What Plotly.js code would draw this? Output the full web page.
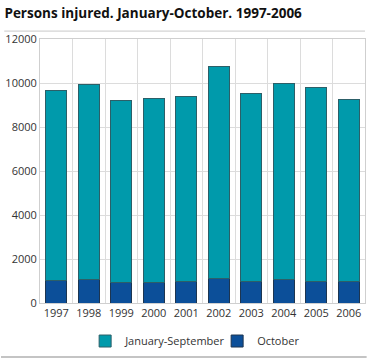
<!DOCTYPE html>
<html>
<head>
<meta charset="utf-8">
<script src="https://cdn.plot.ly/plotly-3.0.1.min.js"></script>
<style>
html,body{margin:0;padding:0;background:#fff;}
#chart{width:368px;height:361px;}
</style>
</head>
<body>
<div id="chart"></div>
<script>
var years = ['1997','1998','1999','2000','2001','2002','2003','2004','2005','2006'];
var october = [1010, 1050, 935, 910, 1000, 1100, 1000, 1070, 955, 980];
var janSep = [8630, 8870, 8280, 8390, 8400, 9630, 8530, 8900, 8845, 8250];
var yTicks = [0, 2000, 4000, 6000, 8000, 10000, 12000];

var traces = [
  {type:'bar', name:'October', x:years, y:october,
   marker:{color:'#0c4f99', line:{color:'#1d3550', width:1}}, hoverinfo:'x+y+name'},
  {type:'bar', name:'January-September', x:years, y:janSep,
   marker:{color:'#009aab', line:{color:'#2c5f68', width:1}}, hoverinfo:'x+y+name'}
];

var layout = {
  width:368, height:361,
  margin:{l:40, r:3, t:39, b:58},
  paper_bgcolor:'#fff', plot_bgcolor:'#fff',
  barmode:'stack', bargap:0.34,
  font:{family:'Open Sans, sans-serif', size:11, color:'#333'},
  title:{text:'<b>Persons injured. January-October. 1997-2006</b>', x:0.012, xanchor:'left', y:0.962, yanchor:'middle',
         font:{family:'Open Sans, sans-serif', size:13.5, color:'#111'}},
  xaxis:{type:'category', tickson:'boundaries', showgrid:true, gridcolor:'#dcdcdc', gridwidth:1, tickangle:0,
         ticks:'', showline:true, linecolor:'#cfcfcf', mirror:true, tickfont:{size:11, color:'#333'}, fixedrange:true},
  yaxis:{range:[0,12000], tickvals:yTicks, ticktext:yTicks.map(String), showgrid:true, gridcolor:'#dcdcdc',
         zeroline:false, showline:true, linecolor:'#cfcfcf', mirror:true, ticks:'', tickfont:{size:11, color:'#333'}, fixedrange:true},
  legend:{orientation:'h', x:0.545, xanchor:'center', y:-0.144, yanchor:'middle', traceorder:'reversed',
          entrywidth:87, itemwidth:30,
          bgcolor:'rgba(0,0,0,0)', font:{size:11, color:'#333'}},
  shapes:[
    {type:'line', xref:'paper', yref:'paper', x0:-0.11, x1:1, y0:1.03, y1:1.03, line:{color:'#c8c8c8', width:1}},
    {type:'line', xref:'paper', yref:'paper', x0:-0.12, x1:1.005, y0:-0.205, y1:-0.205, line:{color:'#c4c4c4', width:2}}
  ],
  showlegend:true
};

Plotly.newPlot('chart', traces, layout, {displayModeBar:false, staticPlot:true});
</script>
</body>
</html>
